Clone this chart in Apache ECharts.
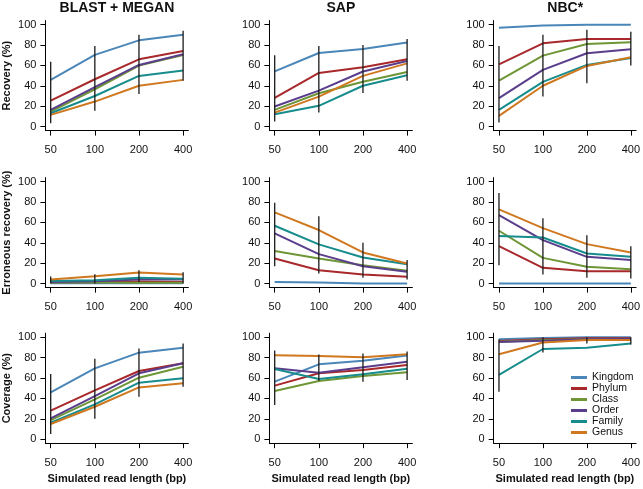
<!DOCTYPE html>
<html>
<head>
<meta charset="utf-8">
<script src="https://cdn.jsdelivr.net/npm/echarts@6/dist/echarts.min.js"></script>
<style>html,body{margin:0;padding:0;background:#fff}#c{width:643px;height:489px}</style>
</head>
<body>
<div id="c"></div>
<script>
// ---- data ----
const readLengths = ['50', '100', '200', '400'];
const ranks = ['Kingdom', 'Phylum', 'Class', 'Order', 'Family', 'Genus'];
const methods = ['BLAST + MEGAN', 'SAP', 'NBC*'];
const metrics = ['Recovery (%)', 'Erroneous recovery (%)', 'Coverage (%)'];
const yTicks = [0, 20, 40, 60, 80, 100];

// rows: Kingdom, Phylum, Class, Order, Family, Genus ; columns: 50,100,200,400 bp
const blastRecovery = [
  [45.8, 70.3, 84.6, 90.2],
  [25.5, 46.4, 66.0, 74.2],
  [14.7, 36.6, 59.8, 70.3],
  [16.3, 38.6, 60.5, 71.0],
  [13.0, 30.0, 49.7, 55.0],
  [11.4, 24.5, 40.0, 45.8]
];
const sapRecovery = [
  [54.2, 72.2, 76.1, 82.4],
  [28.1, 52.6, 58.2, 66.0],
  [16.3, 32.7, 44.0, 53.6],
  [19.6, 35.3, 54.0, 64.4],
  [12.0, 20.3, 40.0, 50.3],
  [13.7, 29.4, 49.7, 62.0]
];
const nbcRecovery = [
  [97.0, 99.3, 100, 100],
  [61.0, 81.7, 86.0, 86.0],
  [45.0, 69.6, 81.0, 82.7],
  [27.8, 55.6, 72.0, 75.8],
  [16.3, 43.8, 60.5, 67.3],
  [10.5, 40.0, 59.5, 68.0]
];
const blastErroneous = [
  [0.3, 0.3, 0.3, 0.3],
  [1.3, 1.3, 2.0, 1.6],
  [1.0, 1.0, 0.7, 0.7],
  [1.6, 2.3, 4.0, 4.0],
  [2.6, 3.3, 5.6, 4.6],
  [4.0, 7.2, 10.8, 8.9]
];
const sapErroneous = [
  [1.6, 1.0, 0.0, 0.0],
  [24.6, 13.0, 8.9, 6.6],
  [32.0, 24.6, 18.0, 12.5],
  [49.2, 28.9, 17.0, 11.5],
  [56.7, 38.4, 25.6, 19.0],
  [69.8, 52.5, 30.5, 19.7]
];
const nbcErroneous = [
  [0, 0, 0, 0],
  [36.7, 15.4, 12.1, 12.1],
  [51.8, 25.2, 16.4, 14.1],
  [67.2, 42.6, 26.2, 23.0],
  [46.6, 45.2, 29.5, 26.2],
  [72.8, 54.4, 38.7, 30.5]
];
const blastCoverage = [
  [45.9, 69.5, 84.9, 89.8],
  [27.9, 47.9, 66.9, 74.4],
  [18.7, 39.0, 60.3, 71.1],
  [20.3, 42.3, 64.6, 74.4],
  [16.1, 34.1, 55.4, 59.7],
  [14.8, 31.8, 50.8, 54.8]
];
const sapCoverage = [
  [56.4, 73.4, 77.0, 82.0],
  [52.5, 64.6, 67.9, 72.8],
  [47.2, 57.0, 62.0, 65.6],
  [69.5, 65.2, 70.5, 76.0],
  [68.9, 59.0, 63.6, 69.2],
  [82.3, 81.6, 80.3, 83.3]
];
const nbcCoverage = [
  [98.0, 99.3, 100, 100],
  [96.4, 98.0, 99.0, 99.0],
  [95.7, 97.4, 98.0, 97.4],
  [95.4, 96.7, 98.0, 98.4],
  [63.0, 88.5, 89.8, 94.0],
  [83.3, 94.8, 97.4, 97.4]
];

// error bar ranges [low, high] at 50,100,200,400 bp
const blastRecoveryErr = [[3.3, 63.7], [15.4, 79], [32, 90], [45, 94]];
const sapRecoveryErr = [[5, 70], [13.7, 79], [33, 80], [45, 86]];
const nbcRecoveryErr = [[4, 79], [29.4, 90], [42.5, 95], [60, 93]];
const blastErroneousErr = [[0, 7], [0, 9], [1.6, 13], [0, 11]];
const sapErroneousErr = [[17, 79.3], [9.8, 66], [5.6, 40], [4, 23]];
const nbcErroneousErr = [[18, 89], [8.9, 64], [5.6, 47.5], [4.9, 36.7]];
const blastCoverageErr = [[5, 64], [20, 79], [41.6, 89], [51.5, 94]];
const sapCoverageErr = [[33.4, 87], [57.4, 83], [56.4, 84], [58, 86]];
const nbcCoverageErr = [[46.6, 98], [85, 100], [94, 100], [93, 100]];

const panels = [
  [blastRecovery, sapRecovery, nbcRecovery],
  [blastErroneous, sapErroneous, nbcErroneous],
  [blastCoverage, sapCoverage, nbcCoverage]
];
const panelErrs = [
  [blastRecoveryErr, sapRecoveryErr, nbcRecoveryErr],
  [blastErroneousErr, sapErroneousErr, nbcErroneousErr],
  [blastCoverageErr, sapCoverageErr, nbcCoverageErr]
];

// ---- styles / layout ----
const rankColors = ['#4a86b8', '#a8282b', '#6e9636', '#5a3e8c', '#178c8c', '#d0781f'];
const FONT = '"Liberation Sans", Arial, Helvetica, sans-serif';
const colLeft = [45.4, 269.4, 493.7];
const colWidth = 143;
const rowTop = [20.6, 177.6, 333.2];
const rowHeight = 110;

const grids = [], xAxes = [], yAxes = [], seriesList = [], titles = [];
let gi = 0;
for (let r = 0; r < 3; r++) {
  for (let c = 0; c < 3; c++) {
    grids.push({ left: colLeft[c], top: rowTop[r], width: colWidth, height: rowHeight, containLabel: false });
    xAxes.push({
      gridIndex: gi, type: 'value', min: 0.88, max: 4.12,
      axisLine: { show: true, onZero: false, lineStyle: { color: '#000', width: 1 } },
      axisTick: { show: true, length: 5, lineStyle: { color: '#000', width: 1 }, customValues: [1, 2, 3, 4] },
      axisLabel: { show: true, margin: 14, fontSize: 11, color: '#111', fontFamily: FONT,
        customValues: [1, 2, 3, 4], formatter: v => readLengths[Math.round(v) - 1] },
      splitLine: { show: false },
      name: r === 2 ? 'Simulated read length (bp)' : '',
      nameLocation: 'middle', nameGap: 30,
      nameTextStyle: { fontSize: 11, fontWeight: 'bold', color: '#111', fontFamily: FONT }
    });
    yAxes.push({
      gridIndex: gi, type: 'value', min: -4, max: 104,
      axisLine: { show: true, onZero: false, lineStyle: { color: '#000', width: 1 } },
      axisTick: { show: true, length: 5, lineStyle: { color: '#000', width: 1 }, customValues: yTicks },
      axisLabel: { show: true, margin: 9, fontSize: 11, color: '#111', fontFamily: FONT, customValues: yTicks },
      splitLine: { show: false },
      name: c === 0 ? metrics[r] : '',
      nameLocation: 'middle', nameGap: 33, nameRotate: 90,
      nameTextStyle: { fontSize: 11, fontWeight: 'bold', color: '#111', fontFamily: FONT }
    });
    const vals = panels[r][c];
    for (let k = 0; k < ranks.length; k++) {
      seriesList.push({
        type: 'line', name: ranks[k], xAxisIndex: gi, yAxisIndex: gi,
        data: vals[k].map((v, i) => [i + 1, v]),
        showSymbol: false, symbol: 'none', silent: true,
        lineStyle: { color: rankColors[k], width: 2 },
        itemStyle: { color: rankColors[k] },
        z: 2 + k * 0.01
      });
    }
    const errs = panelErrs[r][c];
    seriesList.push({
      type: 'custom', xAxisIndex: gi, yAxisIndex: gi, silent: true, z: 5,
      data: errs.map((e, i) => [i + 1, e[0], e[1]]),
      encode: { x: 0, y: [1, 2] },
      renderItem: (params, api) => {
        const p1 = api.coord([api.value(0), api.value(1)]);
        const p2 = api.coord([api.value(0), api.value(2)]);
        return { type: 'line', shape: { x1: p1[0], y1: p1[1], x2: p2[0], y2: p2[1] },
          style: { stroke: '#1a1a1a', lineWidth: 1.3 } };
      }
    });
    gi++;
  }
}
for (let c = 0; c < 3; c++) {
  titles.push({ text: methods[c], left: colLeft[c] + colWidth / 2, textAlign: 'center', top: 1, padding: 0,
    textStyle: { fontSize: 14, fontWeight: 'bold', color: '#111', fontFamily: FONT } });
}

const chart = echarts.init(document.getElementById('c'), null, { renderer: 'canvas' });
chart.setOption({
  animation: false,
  backgroundColor: '#fff',
  title: titles,
  grid: grids,
  xAxis: xAxes,
  yAxis: yAxes,
  legend: {
    data: ranks, orient: 'vertical', left: 571, top: 372, padding: 0,
    itemWidth: 16, itemHeight: 3, itemGap: 0, icon: 'rect',
    textStyle: { fontSize: 10.5, lineHeight: 10.6, color: '#111', fontFamily: FONT }
  },
  series: seriesList
});
</script>
</body>
</html>
